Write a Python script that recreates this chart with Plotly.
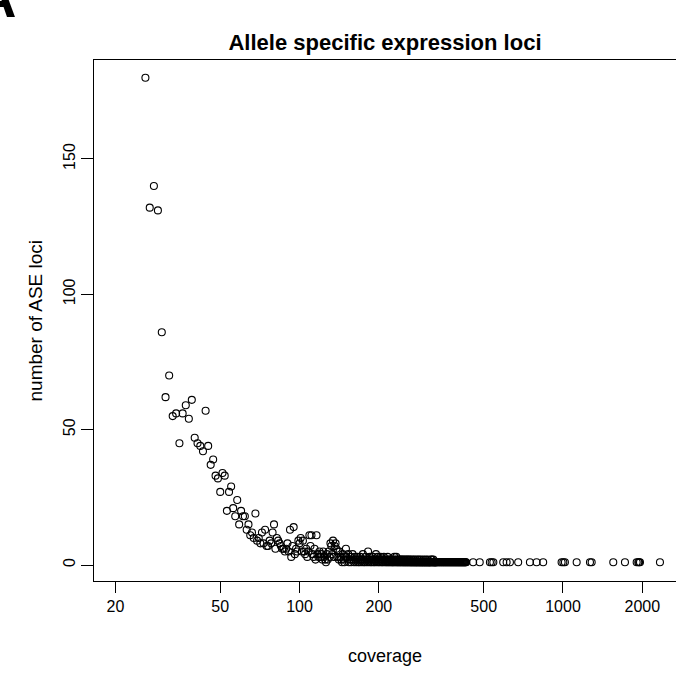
import plotly.graph_objects as go

# ---- data: coverage (x) and number of ASE loci (y) ----
cov_a = [26, 27, 28, 29, 30, 31, 32, 33, 34, 35, 36, 37, 38, 39, 40, 41, 42, 43, 44, 45,
         46, 47, 48, 49, 50, 51, 52, 53, 54, 55, 56, 57, 58, 59, 60, 61, 62, 63, 64, 65,
         66, 67, 68, 69, 70, 71, 72, 73, 74, 75, 76, 77, 78, 79, 80, 81, 82, 83, 84, 85,
         86, 87, 88, 89, 90, 91, 92, 93, 94, 95, 96, 97, 98, 99, 100, 101, 102, 103, 104, 105,
         106, 107, 108, 109, 110, 111, 112, 113, 114, 115, 116, 117, 118, 119, 120, 121, 122, 123, 124, 125,
         126, 127, 128, 129, 130, 131, 132, 133, 134, 135, 136, 137, 138, 139, 140, 141, 142, 143, 144, 145,
         146, 147, 148, 149, 150]
cnt_a = [180, 132, 140, 131, 86, 62, 70, 55, 56, 45, 56, 59, 54, 61, 47, 45, 44, 42, 57, 44,
         37, 39, 33, 32, 27, 34, 33, 20, 27, 29, 21, 18, 24, 15, 20, 18, 18, 13, 15, 11,
         12, 10, 19, 9, 10, 8, 12, 8, 13, 7, 7, 9, 8, 12, 15, 6, 10, 9, 8, 7,
         6, 6, 5, 6, 8, 5, 13, 3, 7, 14, 4, 6, 5, 9, 8, 10, 5, 9, 5, 4,
         6, 3, 5, 11, 7, 11, 4, 3, 6, 2, 11, 4, 3, 5, 3, 4, 2, 5, 3, 2,
         1, 4, 2, 5, 3, 8, 7, 4, 9, 3, 7, 8, 6, 3, 5, 2, 5, 3, 2, 1,
         4, 2, 1, 3, 6]

cov_b = [151, 152, 153, 154, 155, 156, 157, 158, 159, 160, 161, 162, 163, 164, 165, 166, 167, 168, 169, 170,
         171, 172, 173, 174, 175, 176, 177, 178, 179, 180, 181, 182, 183, 184, 185, 186, 187, 188, 189, 190,
         191, 192, 193, 194, 195, 196, 197, 198, 199, 200, 201, 202, 203, 204, 205, 206, 207, 208, 209, 210,
         211, 212, 213, 214, 215, 216, 217, 218, 219, 220, 221, 222, 223, 224, 225, 226, 227, 228, 229, 230,
         231, 232, 233, 234, 235, 236, 237, 238, 239, 240, 241, 242, 243, 244, 245, 246, 247, 248, 249, 250,
         251, 252, 253, 254, 255, 256, 257, 258, 259, 260, 261, 262, 263, 264, 265, 266, 267, 268, 269, 270,
         271, 272, 273, 274, 275, 276, 277, 278, 279, 280, 281, 282, 283, 284, 285, 286, 287, 288, 289, 290,
         291, 292, 293, 294, 295, 296, 297, 298, 299, 300, 301, 302, 303, 304, 305, 306, 307, 308, 309, 310,
         311, 312, 313, 314, 315, 316, 317, 318, 319, 320, 321, 322, 323, 324, 325, 326, 327, 328, 329, 330]
cnt_b = [3, 2, 4, 1, 2, 3, 1, 2, 4, 2, 1, 3, 2, 1, 2, 3, 1, 2, 1, 3,
         2, 1, 2, 4, 1, 2, 1, 3, 2, 1, 2, 5, 1, 2, 3, 1, 2, 1, 2, 3,
         1, 2, 1, 2, 4, 1, 2, 3, 1, 2, 1, 2, 3, 1, 2, 1, 2, 1, 3, 2,
         1, 2, 1, 2, 1, 3, 1, 2, 1, 2, 1, 2, 1, 2, 1, 1, 2, 1, 3, 1,
         2, 1, 3, 1, 2, 1, 1, 2, 1, 2, 1, 1, 2, 1, 2, 1, 1, 2, 1, 1,
         2, 1, 1, 2, 1, 1, 2, 1, 1, 2, 1, 1, 2, 1, 1, 1, 2, 1, 1, 1,
         2, 1, 1, 1, 2, 1, 1, 1, 1, 2, 1, 1, 1, 2, 1, 1, 1, 1, 2, 1,
         1, 1, 1, 1, 2, 1, 1, 1, 1, 1, 2, 1, 1, 1, 1, 1, 2, 1, 1, 1,
         1, 1, 1, 1, 2, 1, 1, 2, 1, 1, 1, 2, 1, 1, 1, 1, 1, 1, 1, 1]

cov_c = [331, 333, 335, 337, 339, 341, 343, 345, 347, 349, 351, 353, 355, 357, 359, 361, 363, 365, 367, 369,
         371, 373, 375, 377, 379, 381, 383, 385, 387, 389, 391, 393, 395, 397, 399, 401, 403, 405, 407, 409,
         411, 413, 415, 417, 419, 421, 423, 425, 427, 429]
cnt_c = [1, 1, 1, 1, 1, 1, 1, 1, 1, 1, 1, 1, 1, 1, 1, 1, 1, 1, 1, 1,
         1, 1, 1, 1, 1, 1, 1, 1, 1, 1, 1, 1, 1, 1, 1, 1, 1, 1, 1, 1,
         1, 1, 1, 1, 1, 1, 1, 1, 1, 1]

cov_d = [456, 483, 528, 536, 544, 593, 611, 629, 676, 749, 794, 841, 988, 1003, 1017,
         1127, 1266, 1285, 1552, 1719, 1904, 1931, 1945, 1960, 2334]
cnt_d = [1, 1, 1, 1, 1, 1, 1, 1, 1, 1, 1, 1, 1, 1, 1,
         1, 1, 1, 1, 1, 1, 1, 1, 1, 1]

x_ticks = [20, 50, 100, 200, 500, 1000, 2000]
y_ticks = [0, 50, 100, 150]

title_text = "Allele specific expression loci"
x_label = "coverage"
y_label = "number of ASE loci"

coverage = cov_a + cov_b + cov_c + cov_d
counts = cnt_a + cnt_b + cnt_c + cnt_d

FONT = "Liberation Sans, Arial, Helvetica, sans-serif"

fig = go.Figure()
fig.add_trace(go.Scatter(
    x=coverage, y=counts, mode="markers",
    marker=dict(symbol="circle-open", size=7, color="black", line=dict(width=1.1, color="black")),
    hoverinfo="x+y", showlegend=False,
))

W, H = 676, 677
L, R, T, B = 94, 0, 60, 96
pw, ph = W - L - R, H - T - B

def px_x(px):
    return (px - L) / pw

def px_y(py):
    return (H - B - py) / ph

fig.update_layout(
    width=W, height=H,
    margin=dict(l=L, r=R, t=T, b=B, autoexpand=False),
    paper_bgcolor="white", plot_bgcolor="white",
    font=dict(family=FONT, color="black", size=16),
    title=dict(text="<b>" + title_text + "</b>", x=0.5, xref="paper", xanchor="center",
               y=1 - 42 / H, yref="container", yanchor="middle",
               font=dict(family=FONT, size=22, color="black")),
    xaxis=dict(type="log", range=[1.2198, 3.4290],
               tickmode="array", tickvals=x_ticks, ticktext=[str(v) for v in x_ticks],
               ticks="outside", ticklen=11, tickwidth=1, tickcolor="black",
               showline=True, linecolor="black", linewidth=1, mirror=True,
               showgrid=False, zeroline=False, tickfont=dict(size=16)),
    yaxis=dict(range=[-5.91, 186.55],
               tickmode="array", tickvals=y_ticks, ticktext=[str(v) for v in y_ticks],
               tickangle=-90,
               ticks="outside", ticklen=12, tickwidth=1, tickcolor="black",
               showline=True, linecolor="black", linewidth=1, mirror=False,
               showgrid=False, zeroline=False, tickfont=dict(size=16)),
    annotations=[
        dict(text=x_label, xref="paper", yref="paper", x=0.5, y=px_y(656),
             xanchor="center", yanchor="middle", showarrow=False,
             font=dict(family=FONT, size=18)),
        dict(text=y_label, xref="paper", yref="paper", x=px_x(35), y=0.5,
             xanchor="center", yanchor="middle", textangle=-90, showarrow=False,
             font=dict(family=FONT, size=19)),
        dict(text="<b>A</b>", xref="paper", yref="paper", x=px_x(-4), y=px_y(31),
             xanchor="center", yanchor="bottom", showarrow=False,
             font=dict(family=FONT, size=56)),
    ],
)

fig.write_html(
    "out.html",
    config={"displayModeBar": False},
    post_script="document.body.style.margin='0';document.body.style.padding='0';"
                "document.documentElement.style.overflow='hidden';",
)
